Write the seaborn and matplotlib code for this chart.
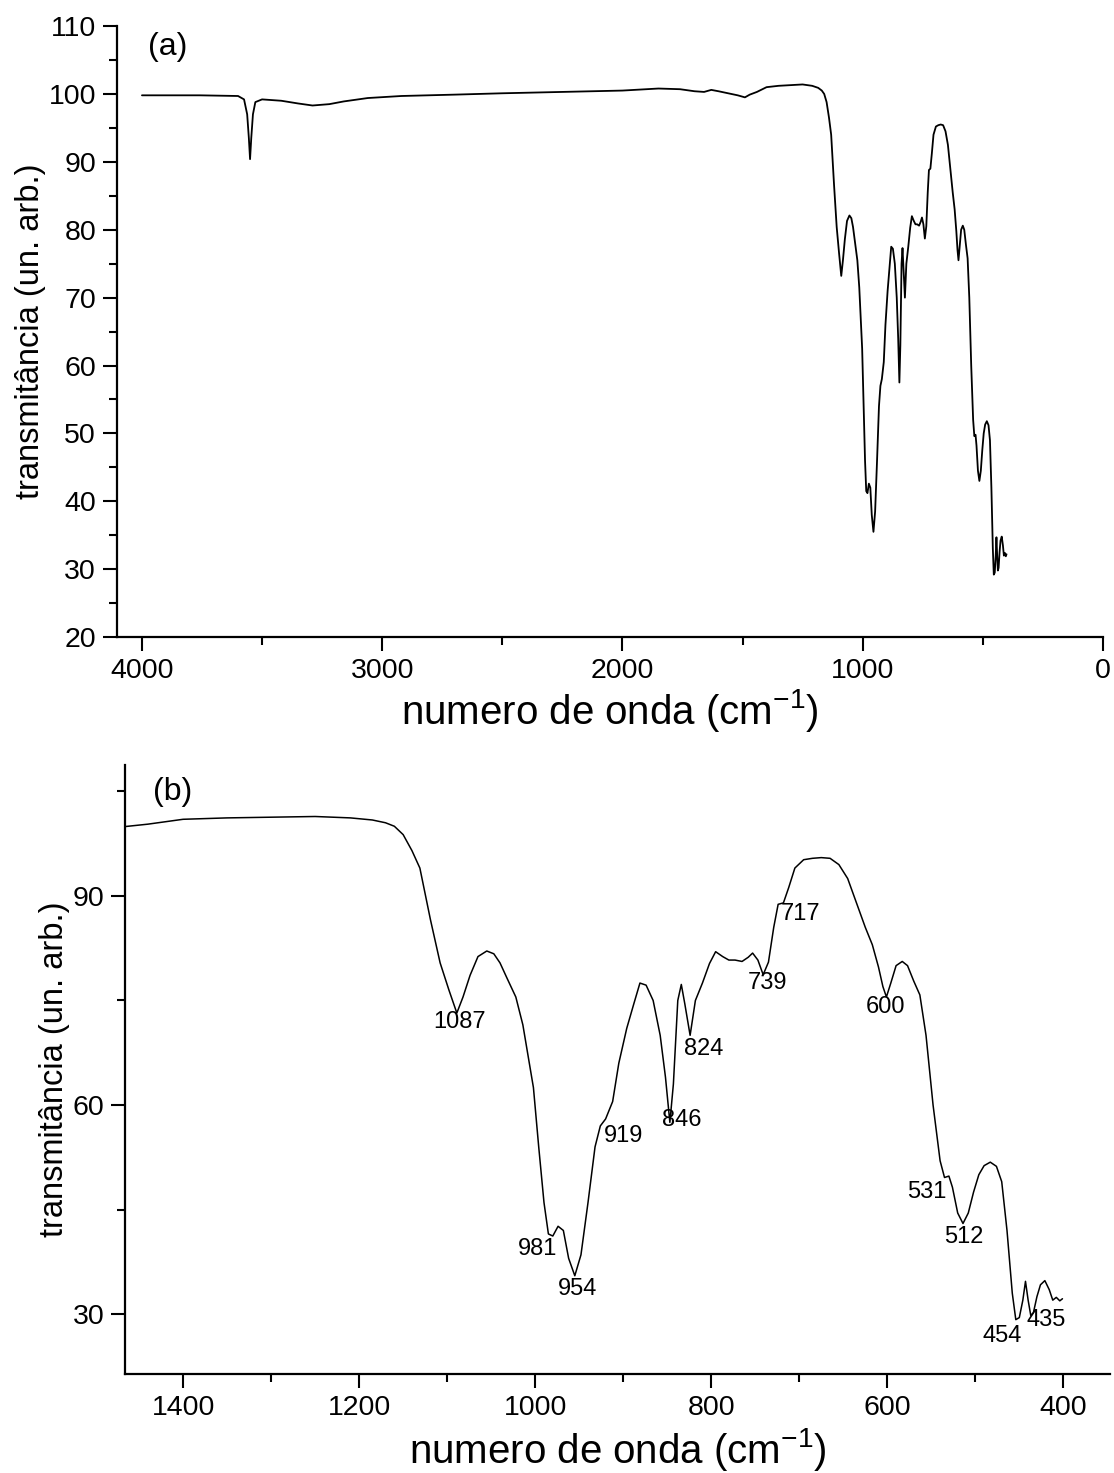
import numpy as np
import pandas as pd
import matplotlib
matplotlib.use("Agg")
import matplotlib.pyplot as plt
from matplotlib.ticker import MultipleLocator
import seaborn as sns

# ---------------- data ----------------
wavenumber = [4000, 3760, 3600, 3575, 3562, 3555, 3550, 3545, 3538, 3528, 3500, 3420,
              3350, 3290, 3220, 3160, 3060, 2920, 2700, 2500, 2250, 2000, 1850, 1760,
              1700, 1660, 1630, 1600, 1560, 1520, 1490, 1470, 1440, 1400, 1350, 1300,
              1250, 1210, 1185, 1170, 1160, 1150, 1140, 1131, 1119, 1108, 1098, 1089,
              1082, 1074, 1065, 1055, 1047, 1040, 1032, 1022, 1014, 1008, 1002, 996,
              990, 985, 980, 974, 968, 962, 955, 948, 940, 932, 926, 920, 912, 905,
              896, 888, 881, 874, 866, 858, 852, 847, 843, 838, 834, 830, 824, 818,
              810, 802, 795, 787, 780, 773, 765, 758, 753, 747, 741, 735, 729, 724,
              718, 712, 705, 695, 685, 675, 665, 655, 645, 635, 625, 617, 610, 605,
              601, 596, 590, 583, 577, 570, 563, 556, 548, 540, 535, 530, 526, 520,
              514, 508, 502, 496, 490, 483, 476, 470, 464, 458, 454, 450, 446, 443,
              440, 437, 434, 430, 426, 421, 416, 412, 408, 404, 401]
transmittance = [99.8, 99.8, 99.7, 99.2, 97.0, 93.5, 90.4, 93.5, 97.0, 98.8, 99.2, 99.0,
                 98.6, 98.3, 98.5, 98.9, 99.4, 99.7, 99.9, 100.1, 100.3, 100.5, 100.8, 100.7,
                 100.4, 100.3, 100.6, 100.4, 100.1, 99.8, 99.5, 99.9, 100.3, 101.0, 101.2, 101.3,
                 101.4, 101.2, 100.9, 100.5, 100.0, 98.8, 96.5, 94.0, 86.6, 80.4, 76.5, 73.2,
                 75.5, 78.6, 81.3, 82.1, 81.7, 80.4, 78.2, 75.5, 71.5, 67.0, 62.5, 54.0,
                 46.0, 41.5, 41.2, 42.6, 42.0, 38.0, 35.5, 38.5, 46.0, 54.0, 57.0, 58.0, 60.5, 66.0,
                 71.0, 74.5, 77.5, 77.2, 75.0, 70.0, 64.0, 57.5, 63.0, 75.0, 77.3, 74.5, 70.0, 75.0,
                 77.5, 80.3, 82.0, 81.3, 80.8, 80.8, 80.6, 81.2, 81.8, 80.8, 78.7, 80.5, 85.5, 88.8,
                 89.0, 91.2, 94.0, 95.2, 95.4, 95.5, 95.4, 94.5, 92.5, 89.0, 85.5, 83.0, 79.8, 77.0,
                 75.5, 77.5, 80.0, 80.6, 80.0, 77.8, 75.8, 70.0, 60.0, 52.0, 49.6, 49.8, 48.2, 44.5,
                 43.0, 44.5, 47.5, 50.0, 51.3, 51.8, 51.2, 49.0, 42.0, 33.0, 29.2, 29.5, 32.0, 34.7,
                 32.0, 29.8, 30.2, 32.5, 34.2, 34.8, 33.5, 32.0, 32.4, 31.9, 32.2]

peak_labels = [1087, 981, 954, 919, 846, 824, 739, 717, 600, 531, 512, 454, 435]

y_ticks_a = [20, 30, 40, 50, 60, 70, 80, 90, 100, 110]
x_ticks_a = [4000, 3000, 2000, 1000, 0]
y_ticks_b = [30, 60, 90]
x_ticks_b = [1400, 1200, 1000, 800, 600, 400]

# ---------------- style ----------------
sns.set_theme(style="ticks")
plt.rcParams["font.family"] = ["Liberation Sans", "DejaVu Sans"]
plt.rcParams["mathtext.fontset"] = "custom"
plt.rcParams["mathtext.rm"] = "Liberation Sans"
plt.rcParams["mathtext.it"] = "Liberation Sans"
plt.rcParams["text.color"] = "black"
plt.rcParams["axes.labelcolor"] = "black"

df = pd.DataFrame({"wn": wavenumber, "T": transmittance})

fig = plt.figure(figsize=(11.14, 14.73), dpi=100)
ax_a = fig.add_axes([0.105, 0.5675, 0.885, 0.4148])
ax_b = fig.add_axes([0.1122, 0.0672, 0.8842, 0.4135])

for ax, lw, xpad in ((ax_a, 1.3, 2), (ax_b, 1.1, 3.5)):
    sns.lineplot(data=df, x="wn", y="T", ax=ax, color="black", sort=False,
                 estimator=None, linewidth=lw)
    for s in ("top", "right"):
        ax.spines[s].set_visible(False)
    for s in ("left", "bottom"):
        ax.spines[s].set_linewidth(1.6)
        ax.spines[s].set_color("black")
    ax.tick_params(which="major", direction="out", length=10, width=1.5,
                   labelsize=20.5, colors="black", labelcolor="black", pad=5)
    ax.tick_params(which="minor", direction="out", length=5.5, width=1.5,
                   colors="black")
    ax.set_xlabel("numero de onda (cm$^{-1}$)", fontsize=29, labelpad=xpad)
    ax.set_ylabel("transmitância (un. arb.)", fontsize=23.5, labelpad=2)

# panel (a)
ax_a.set_xlim(4104, 0)
ax_a.set_ylim(20, 110)
ax_a.set_xticks(x_ticks_a)
ax_a.set_yticks(y_ticks_a)
ax_a.xaxis.set_minor_locator(MultipleLocator(500))
ax_a.yaxis.set_minor_locator(MultipleLocator(5))
ax_a.text(0.051, 0.965, "(a)", transform=ax_a.transAxes, fontsize=23,
          ha="center", va="center")

# panel (b)
ax_b.set_xlim(1466, 347)
ax_b.set_ylim(21.4, 108.8)
ax_b.set_xticks(x_ticks_b)
ax_b.set_yticks(y_ticks_b)
ax_b.xaxis.set_minor_locator(MultipleLocator(100))
ax_b.yaxis.set_minor_locator(MultipleLocator(15))
ax_b.text(0.048, 0.956, "(b)", transform=ax_b.transAxes, fontsize=23,
          ha="center", va="center")

# peak annotations (offsets in points)
label_offsets = {1087: (1, -10), 981: (-10, -9.5), 954: (1, -12), 919: (12, -14),
                 846: (8, -5), 824: (10, -9.5), 739: (1.5, -9), 717: (12, -10),
                 600: (-1, -9), 531: (-15, -11.5), 512: (-1, -12), 454: (-10, -11.5),
                 435: (10, -4.5)}
wn_arr = np.array(wavenumber)[::-1]
t_arr = np.array(transmittance)[::-1]
for p in peak_labels:
    yv = np.interp(p, wn_arr, t_arr)
    dx, dy = label_offsets[p]
    ax_b.annotate(str(p), xy=(p, yv), xytext=(dx, dy), textcoords="offset points",
                  ha="center", va="center", fontsize=17)

fig.savefig("out.png", dpi=100)
